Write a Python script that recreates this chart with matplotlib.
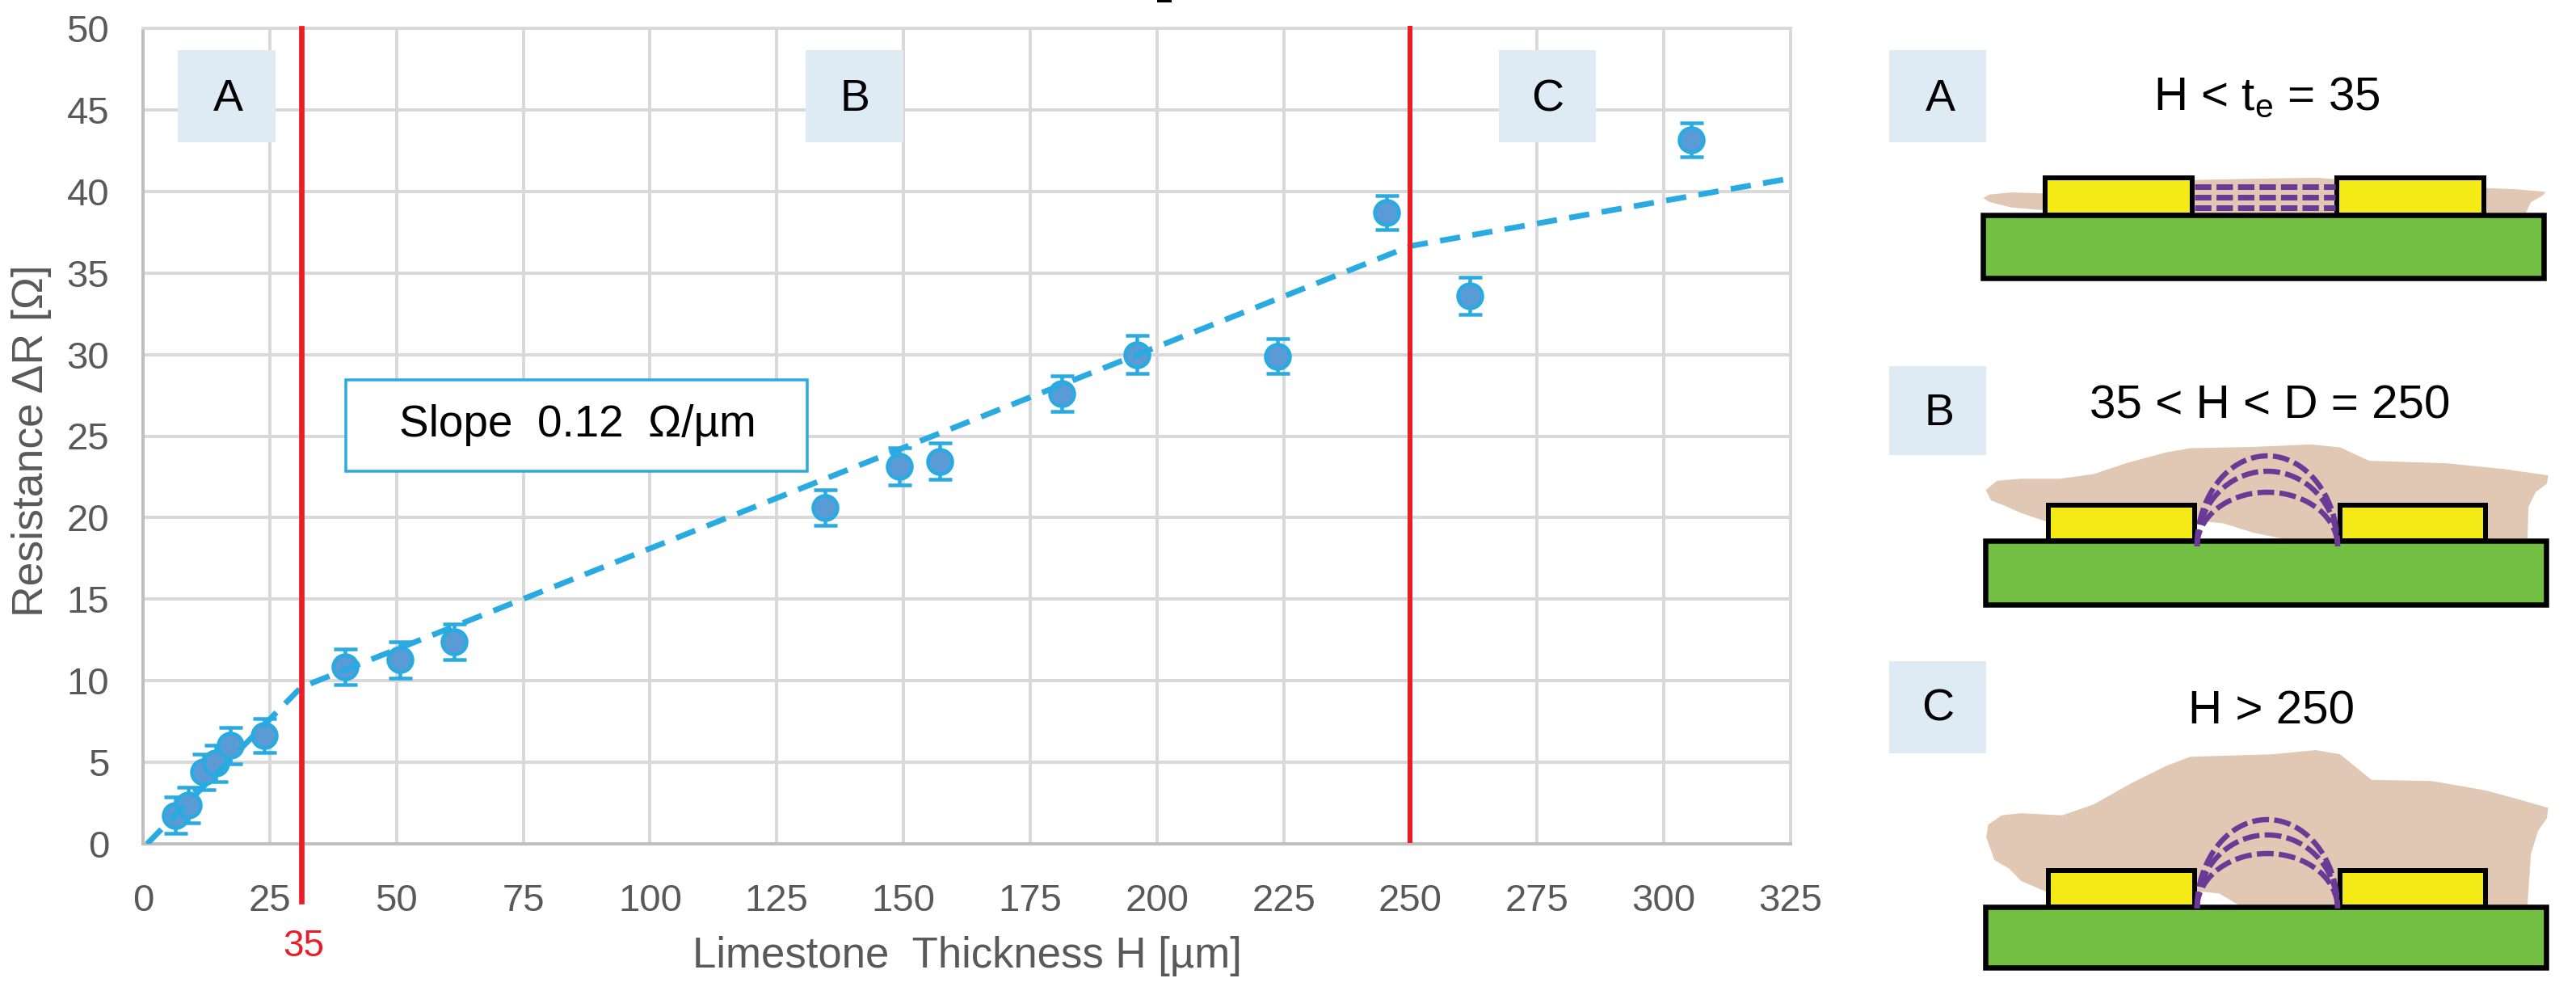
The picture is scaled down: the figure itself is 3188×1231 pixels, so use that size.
import matplotlib
matplotlib.use('Agg')
import matplotlib.pyplot as plt
from matplotlib.patches import Polygon, Rectangle
import numpy as np

plt.rcParams['font.family'] = ['Liberation Sans', 'DejaVu Sans']
plt.rcParams['mathtext.default'] = 'regular'

# measurements
thickness = [6.4, 8.9, 11.9, 14.3, 17.2, 23.9, 39.8, 50.7, 61.4, 134.5,
             149.2, 157.1, 181.2, 196.0, 223.8, 245.3, 261.7, 305.4]
resistance = [1.75, 2.37, 4.4, 4.94, 6.03, 6.65, 10.86, 11.28, 12.4, 20.6,
              23.15, 23.46, 27.6, 30.0, 29.9, 38.7, 33.6, 43.15]
err = [1.1, 1.1, 1.1, 1.1, 1.1, 1.05, 1.1, 1.1, 1.1, 1.1,
       1.15, 1.1, 1.1, 1.15, 1.05, 1.05, 1.15, 1.05]

# piecewise trend
fit_x = [0.8, 31.2, 250, 325]
fit_y = [0, 9.6, 36.65, 40.8]

x_ticks = list(range(0, 326, 25))
y_ticks = list(range(0, 51, 5))
boundaries = [31.2, 250]

W, H = 3188, 1231
px = 0.72  # points per pixel at dpi 100

BLUE = '#29ABE2'
FILL = '#5B9BD5'
RED = '#ED1C24'
GREY = '#595959'
BOX = '#DEEBF5'
GREEN = '#72BF44'
YELLOW = '#F4EB16'
TAN = '#E0C8B4'
PURPLE = '#6B3A96'

fig = plt.figure(figsize=(W / 100, H / 100), dpi=100)

ax = fig.add_axes([177 / W, 1 - 1044 / H, (2216 - 177) / W, (1044 - 35) / H])
ax.set_xlim(0, 325)
ax.set_ylim(0, 50)
ax.set_xticks(x_ticks)
ax.set_yticks(y_ticks)
ax.grid(True, color='#D9D9D9', lw=4 * px)
ax.set_axisbelow(True)
ax.tick_params(length=0, labelsize=34, labelcolor=GREY)
ax.tick_params(axis='x', pad=35)
ax.tick_params(axis='y', pad=30)
for s in ['top', 'right']:
    ax.spines[s].set_color('#D9D9D9')
    ax.spines[s].set_linewidth(4 * px)
for s in ['left', 'bottom']:
    ax.spines[s].set_color('#BFBFBF')
    ax.spines[s].set_linewidth(4 * px)

ax.errorbar(thickness, resistance, yerr=err, fmt='o', ms=30 * px, mfc=FILL, mec=BLUE,
            mew=4.5 * px, ecolor=BLUE, elinewidth=4.5 * px, capsize=14.5 * px,
            capthick=7 * px, zorder=4, clip_on=False)
ax.plot(fit_x, fit_y, color=BLUE, lw=7 * px, dashes=(3.6, 2.2), zorder=5)

# region boundaries, the first one runs down past the axis
ax.plot([boundaries[0]] * 2, [-3.5, 50], color=RED, lw=6.7 * px, clip_on=False, zorder=6)
ax.plot([boundaries[1]] * 2, [0.2, 50], color=RED, lw=6 * px, clip_on=False, zorder=6)
ax.text(boundaries[0] + 0.4, -6.3, '35', color=RED, fontsize=33, ha='center', va='center')

ax.set_xlabel('Limestone  Thickness H [µm]', fontsize=38, color=GREY)
ax.xaxis.set_label_coords(0.5, -0.113)
ax.set_ylabel('Resistance ΔR [Ω]', fontsize=38.5, color=GREY)
ax.yaxis.set_label_coords(-0.0555, 0.494)

# overlay in pixel coordinates for the boxes and the sketches
ov = fig.add_axes([0, 0, 1, 1], facecolor='none')
ov.set_xlim(0, W)
ov.set_ylim(H, 0)
ov.axis('off')


def label_box(x0, x1, y0, y1, letter, cx, cy):
    ov.add_patch(Rectangle((x0, y0), x1 - x0, y1 - y0, fc=BOX, ec='none', zorder=2))
    ov.text(cx, cy, letter, fontsize=40, ha='center', va='center', zorder=3)


label_box(220, 341, 62, 176, 'A', 282, 123)
label_box(997, 1118, 62, 176, 'B', 1058, 123)
label_box(1855, 1975, 62, 176, 'C', 1915, 123)
label_box(2338, 2458, 62, 176, 'A', 2401, 123)
label_box(2338, 2458, 453, 563, 'B', 2400, 512)
label_box(2338, 2458, 818, 932, 'C', 2398, 878)

ov.add_patch(Rectangle((428, 470), 571, 113, fc='white', ec=BLUE, lw=3.5 * px, zorder=6))
ov.text(715, 526, 'Slope  0.12  Ω/µm', fontsize=39.5, ha='center', va='center', zorder=7)

ov.text(2805, 121, r'H < t$_{e}$ = 35', fontsize=42, ha='center', va='center')
ov.text(2809, 502, '35 < H < D = 250', fontsize=42, ha='center', va='center')
ov.text(2811, 881, 'H > 250', fontsize=42, ha='center', va='center')

# clipped bit of text at the top edge
ov.add_patch(Rectangle((1432, 0), 18, 3, fc='black', ec='none'))


def to_a(pts):
    return [(2250 + x / 1.672, y / 3) for x, y in pts]


def to_bc(pts):
    return [(2250 + x / 1.672, 420 + y / 1.933) for x, y in pts]


tan_a = to_a([(465, 780), (400, 770), (355, 750), (342, 735), (355, 722), (400, 714), (465, 718),
              (779, 668), (940, 662), (1035, 660), (1068, 665), (1382, 698), (1440, 702), (1505, 712),
              (1500, 725), (1475, 750), (1465, 789), (465, 789)])
tan_b = to_bc([(471, 435), (420, 415), (385, 397), (358, 385), (347, 360), (370, 338), (420, 333),
               (500, 333), (570, 322), (640, 295), (720, 270), (770, 260), (900, 257), (1020, 251),
               (1080, 258), (1140, 290), (1300, 296), (1420, 310), (1511, 325), (1508, 345),
               (1485, 365), (1470, 400), (1468, 476), (960, 476), (900, 462), (840, 440),
               (800, 435), (785, 440)])
tan_c = to_bc([(471, 1320), (420, 1295), (395, 1265), (365, 1245), (348, 1190), (352, 1160),
               (380, 1138), (420, 1133), (505, 1138), (570, 1112), (650, 1060), (720, 1020),
               (770, 998), (940, 992), (1030, 982), (1080, 992), (1110, 1020), (1145, 1053),
               (1270, 1056), (1380, 1078), (1450, 1100), (1511, 1120), (1508, 1145), (1490, 1175),
               (1475, 1230), (1468, 1352), (870, 1352), (830, 1325), (790, 1320)])


def sketch(tan, gx0, gx1, gy0, gy1, lx0, lx1, rx0, rx1, ey0):
    ov.add_patch(Polygon(tan, fc=TAN, ec='none', zorder=1))
    for x0, x1 in [(lx0, lx1), (rx0, rx1)]:
        ov.add_patch(Rectangle((x0, ey0), x1 - x0, gy0 - ey0, fc=YELLOW, ec='black', lw=6 * px, zorder=2))
    ov.add_patch(Rectangle((gx0, gy0), gx1 - gx0, gy1 - gy0, fc=GREEN, ec='black', lw=6.5 * px, zorder=3))


def arcs(x0, x1, base, heights):
    t = np.linspace(np.pi, 0, 120)
    for h in heights:
        ov.plot((x0 + x1) / 2 + (x1 - x0) / 2 * np.cos(t), base - h * np.sin(t), color=PURPLE,
                lw=6.5 * px, dashes=(3.2, 1.0), zorder=4)


sketch(tan_a, 2454, 3148, 266, 344, 2531, 2713, 2892, 3074, 220)
for y in [231, 244, 257]:
    ov.plot([2716, 2890], [y, y], color=PURPLE, lw=7 * px, dashes=(2.9, 0.9), zorder=4)

sketch(tan_b, 2457, 3151, 669, 748, 2535, 2716, 2896, 3076, 625)
arcs(2719, 2893, 676, [112, 93, 67])

sketch(tan_c, 2457, 3151, 1122, 1197, 2535, 2716, 2896, 3076, 1077)
arcs(2719, 2893, 1124, [110, 91, 68])

fig.savefig('out.png', dpi=100)
